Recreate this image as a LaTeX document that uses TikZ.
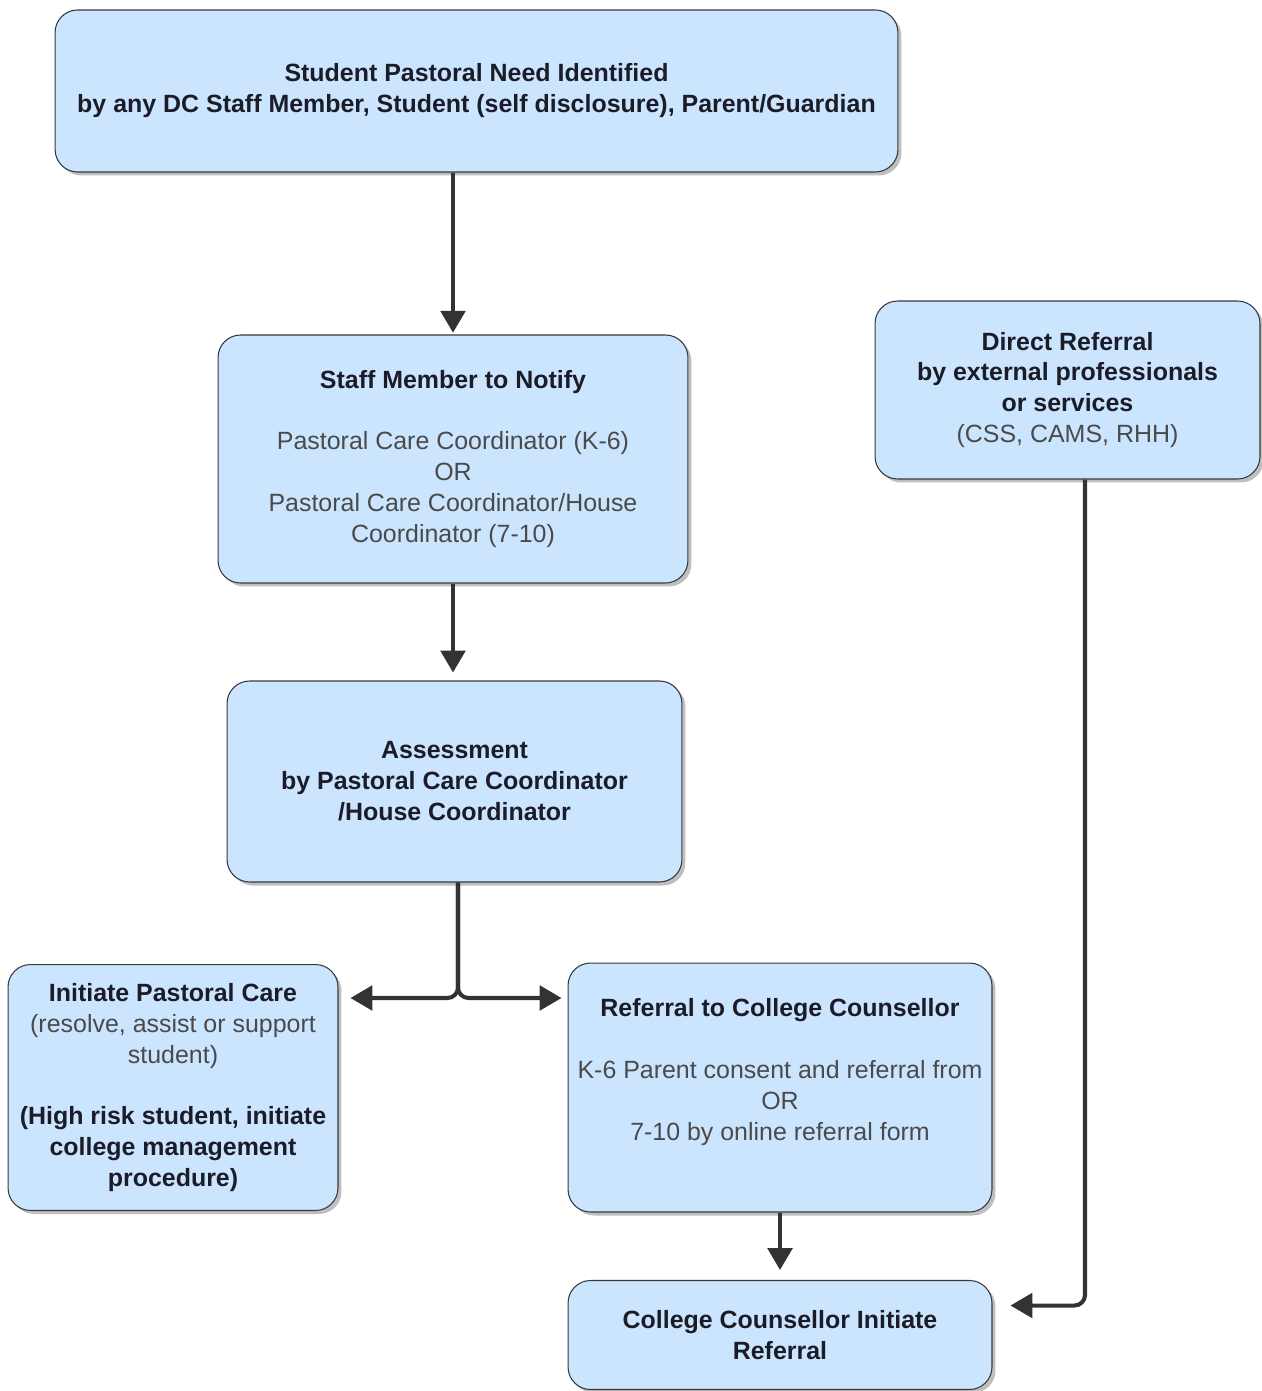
\documentclass[tikz,border=0pt]{standalone}
\usepackage{fontspec}
\setmainfont{Liberation Sans}
\usetikzlibrary{positioning,shadows,arrows.meta}
\definecolor{boxFill}{HTML}{CCE5FF}
\definecolor{boxLine}{HTML}{36393D}
\definecolor{headText}{HTML}{1C1C28}
\definecolor{bodyText}{HTML}{4A4A4A}
\definecolor{arrowGray}{HTML}{333333}
\newcommand{\head}[1]{{\bfseries\color{headText}#1}}

\begin{document}
\begin{tikzpicture}[x=0.02cm, y=-0.02cm,
		careBox/.style={draw=boxLine, fill=boxFill, rounded corners=0.45cm, line width=0.6pt,
			align=center, inner sep=0pt, text=bodyText, font=\fontsize{14.2}{17.6}\selectfont,
			drop shadow={shadow xshift=2pt, shadow yshift=-2pt, fill=black, opacity=0.25}},
		flowArrow/.style={draw=arrowGray, line width=2.3pt, -{Triangle[length=12.5pt,width=14pt]}, rounded corners=6pt}]

		\useasboundingbox (0,0) rectangle (1261,1391);

		% Boxes
		\node[careBox, minimum width=16.86cm, minimum height=3.24cm] (need) at (476.5,91)
			{\head{Student Pastoral Need Identified}\\ \head{by any DC Staff Member, Student (self disclosure), Parent/Guardian}};
		\node[careBox, minimum width=9.4cm, minimum height=4.96cm] (staff) at (453,459)
			{\head{Staff Member to Notify}\\[17.6pt] Pastoral Care Coordinator (K-6)\\ OR\\ Pastoral Care Coordinator/House\\ Coordinator (7-10)};
		\node[careBox, minimum width=7.7cm, minimum height=3.56cm] (direct) at (1067.5,390)
			{\head{Direct Referral}\\ \head{by external professionals}\\ \head{or services}\\ (CSS, CAMS, RHH)};
		\node[careBox, minimum width=9.1cm, minimum height=4.02cm] (assess) at (454.5,781.5)
			{\head{Assessment}\\ \head{by Pastoral Care Coordinator}\\ \head{/House Coordinator}};
		\node[careBox, minimum width=6.6cm, minimum height=4.92cm] (initiate) at (173,1087.5)
			{\head{Initiate Pastoral Care}\\ (resolve, assist or support\\ student)\\[17.6pt] \head{(High risk student, initiate}\\ \head{college management}\\ \head{procedure)}};
		\node[careBox, minimum width=8.48cm, minimum height=4.98cm] (referral) at (780,1087.5)
			{\head{Referral to College Counsellor}\\[17.6pt] K-6 Parent consent and referral from\\ OR\\ 7-10 by online referral form\\[3pt]\mbox{}};
		\node[careBox, minimum width=8.48cm, minimum height=2.18cm] (college) at (780,1335)
			{\head{College Counsellor Initiate}\\ \head{Referral}};

		\coordinate (split) at (458,998);

		% Connectors
		\draw[flowArrow, shorten >=1pt] (staff.north |- need.south) -- (staff.north);
		\draw[flowArrow, shorten >=0.16cm] (staff.south) -- (staff.south |- assess.north);
		\draw[flowArrow, shorten >=0.24cm] (split |- assess.south) |- (initiate.east |- split);
		\draw[flowArrow, shorten >=0.12cm] (split |- assess.south) |- (referral.west |- split);
		\draw[flowArrow, shorten >=0.2cm] (referral.south) -- (college.north);
		\draw[flowArrow, shorten >=0.36cm] ([xshift=0.35cm]direct.south) |- ([yshift=0.59cm]college.east);
	\end{tikzpicture}
\end{document}
